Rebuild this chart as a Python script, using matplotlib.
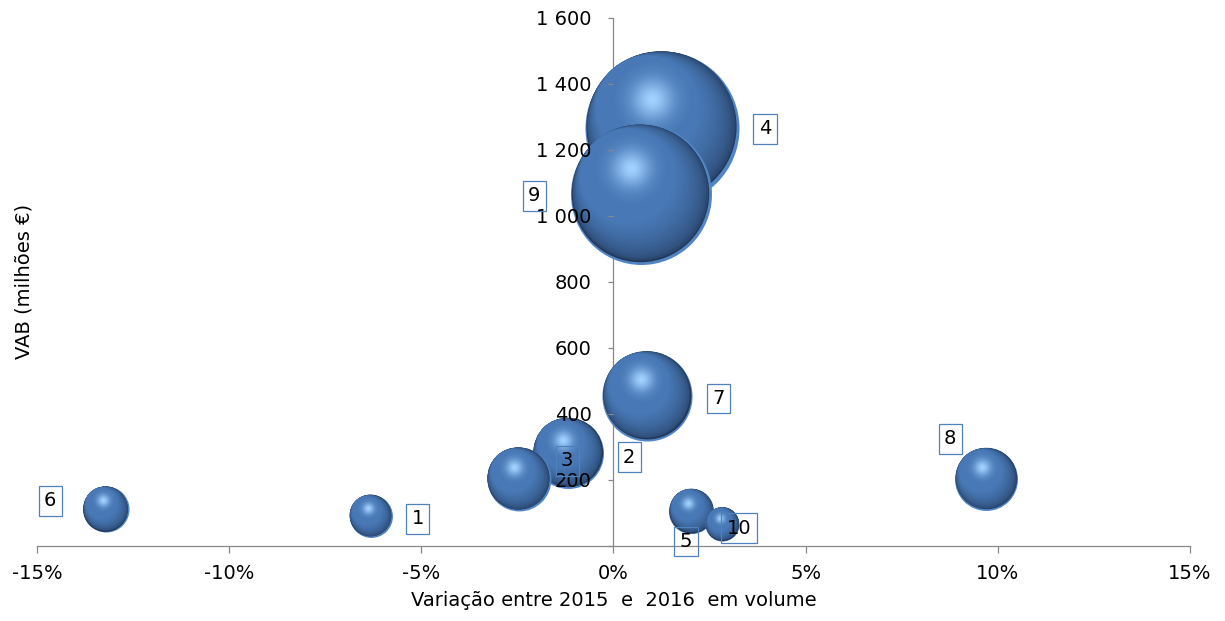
import numpy as np
import matplotlib
matplotlib.use('Agg')
import matplotlib.pyplot as plt
from matplotlib.colors import to_rgb
from matplotlib.transforms import ScaledTranslation
from matplotlib.ticker import FuncFormatter, MultipleLocator

# Ramos (numerados), variação do VAB em volume (%), VAB (milhões €) e peso da bolha
rotulos = ['1', '2', '3', '4', '5', '6', '7', '8', '9', '10']
variacao = [-6.32, -1.18, -2.47, 1.27, 2.03, -13.21, 0.88, 9.70, 0.72, 2.83]
vab = [91, 282, 203, 1267, 106, 112, 455, 203, 1065, 67]
peso = [4.6, 12.6, 10.2, 59.3, 5.1, 5.3, 20.3, 9.9, 49.7, 2.9]

# posição das etiquetas em pontos, a partir do centro de cada bolha
desloc = [(34, -2), (44, -3), (35, 13), (74, -1), (-4, -22),
          (-40, 6), (51, -2), (-26, 29), (-77, -1), (12, -3)]

cinza = '#888888'
azul_caixa = '#4f81bd'
fs = 14

fig, ax = plt.subplots(figsize=(12.25, 6.21), dpi=100)
fig.subplots_adjust(left=0.0302, right=0.9714, bottom=0.1208, top=0.9718)


def mistura(c1, c2, f):
    a, b = np.array(to_rgb(c1)), np.array(to_rgb(c2))
    return tuple(a + (b - a) * f)


def camada(x, y, r, dx, dy, cor, z):
    # um círculo de raio r (pontos) deslocado (dx, dy) pontos do centro
    off = ScaledTranslation(dx / 72, dy / 72, fig.dpi_scale_trans)
    ax.scatter([x], [y], s=(2 * r) ** 2, color=cor, linewidths=0,
               transform=ax.transData + off, zorder=z)


def bolha(x, y, R, z):
    rim, escuro, corpo, brilho = '#5285c4', '#22395c', '#4878b5', '#a2d2ff'
    camada(x, y, R, 0, 0, rim, z)
    # sombra no lado inferior direito, a abrir para o corpo da esfera
    d = np.array([-0.6, 0.8])
    n = 26
    for k in range(n):
        t = k / (n - 1)
        e_ul, e_lr = R, R * (0.95 - 0.6 * t)
        r = (e_ul + e_lr) / 2
        o = (e_ul - e_lr) / 2 * d
        camada(x, y, r, o[0], o[1], mistura(escuro, corpo, t ** 0.45), z + 1e-4 * (k + 1))
    # reflexo de luz no canto superior esquerdo
    h = np.array([-0.14, 0.37]) * R
    m = 20
    for k in range(m):
        rho = R * 0.5 * (1 - k / m)
        f = np.exp(-(rho / (0.27 * R)) ** 2)
        camada(x, y, rho, h[0], h[1], mistura(corpo, brilho, f), z + 1e-4 * (n + k + 1))


for i, (x, y, p) in enumerate(zip(variacao, vab, peso)):
    bolha(x, y, 7.2 * np.sqrt(p), 2 + i * 0.01)

for lbl, x, y, d in zip(rotulos, variacao, vab, desloc):
    ax.annotate(lbl, (x, y), xytext=d, textcoords='offset points',
                ha='center', va='center', fontsize=fs,
                bbox=dict(boxstyle='square,pad=0.28', fc='none', ec=azul_caixa, lw=0.9),
                zorder=5)

ax.set_xlim(-15, 15)
ax.set_ylim(0, 1600)
ax.xaxis.set_major_locator(MultipleLocator(5))
ax.yaxis.set_major_locator(MultipleLocator(200))
ax.xaxis.set_major_formatter(FuncFormatter(lambda v, _: f'{v:.0f}%'))
ax.yaxis.set_major_formatter(FuncFormatter(
    lambda v, _: '' if v == 0 else f'{v:,.0f}'.replace(',', ' ')))

ax.spines['left'].set_position(('data', 0))
ax.spines[['top', 'right']].set_visible(False)
for s in ['left', 'bottom']:
    ax.spines[s].set_color(cinza)
    ax.spines[s].set_linewidth(0.9)
    ax.spines[s].set_zorder(1)
ax.yaxis.set_zorder(4)

ax.tick_params(axis='x', direction='out', length=5, width=0.9, color=cinza,
               labelsize=fs, pad=8)
ax.tick_params(axis='y', direction='out', length=3.6, width=0.9, color=cinza,
               labelsize=fs, pad=12)

ax.set_xlabel('Variação entre 2015  e  2016  em volume', fontsize=fs, labelpad=6)
fig.text(0.0196, 0.546, 'VAB (milhões €)', rotation=90, ha='center', va='center',
         fontsize=fs)

fig.savefig('out.png', dpi=100)
